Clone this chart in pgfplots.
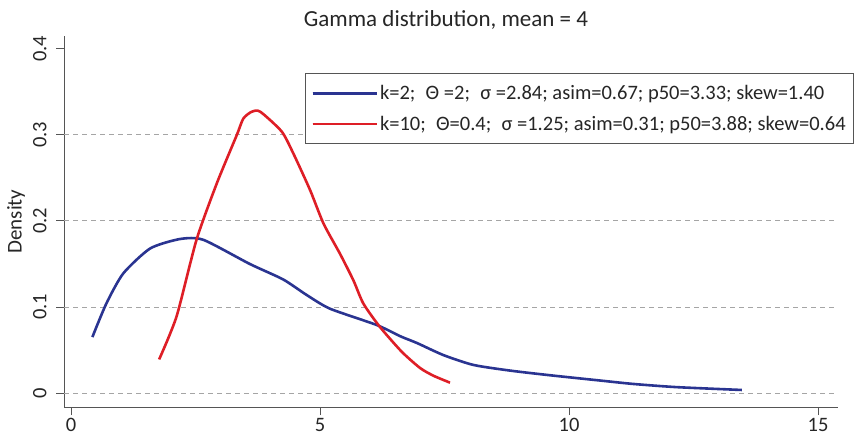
\documentclass[border=0pt]{standalone}
\usepackage{pgfplots}
\pgfplotsset{compat=1.18}
\usepackage{fontspec}
\setmainfont{Carlito}
\definecolor{sblue}{RGB}{42,52,145}
\definecolor{sred}{RGB}{222,30,38}
\definecolor{axgray}{RGB}{85,85,85}
\definecolor{gridgray}{RGB}{165,165,165}
\begin{document}
\begin{tikzpicture}
\useasboundingbox (-64pt,-33pt) rectangle (797pt,407pt);
\begin{axis}[
  at={(0pt,0pt)}, anchor=south west,
  scale only axis, width=774pt, height=371pt,
  xmin=-0.14, xmax=15.4, ymin=-0.0163, ymax=0.415,
  axis x line*=bottom, axis y line*=left,
  axis line style={-, draw=axgray, line width=0.9pt},
  xtick={0,5,10,15}, ytick={0,0.1,0.2,0.3,0.4},
  tick align=outside, major tick length=8pt,
  tick style={draw=axgray, line width=0.9pt},
  extra y ticks={0,0.1,0.2,0.3}, extra y tick labels={},
  extra y tick style={grid=major, major tick length=0pt},
  grid style={dash pattern=on 4.5pt off 4.5pt, draw=gridgray, line width=0.9pt},
  /pgf/number format/assume math mode=true,
  tick label style={font=\fontsize{20.5}{24}\selectfont, text=black!85},
  yticklabel style={xshift=-6pt, rotate=90, anchor=south},
  ylabel={Density},
  every axis y label/.style={at={(rel axis cs:0,0.5)}, xshift=-48pt, rotate=90, anchor=center, font=\fontsize{21}{25}\selectfont, text=black!85},
  title={Gamma distribution, mean = 4},
  every axis title/.style={at={(rel axis cs:0.5,1)}, anchor=base, yshift=9.3pt, xshift=-5pt, font=\fontsize{23}{27}\selectfont, text=black!85},
  legend style={at={(rel axis cs:0.3114,0.9003)}, anchor=north west, draw=axgray, line width=0.8pt,
    font=\fontsize{20.5}{24}\selectfont, text=black!85, inner xsep=6pt, inner ysep=10pt, row sep=11pt,
    cells={anchor=west}},
  legend image code/.code={\draw[#1] (0pt,0pt) -- (51pt,0pt); \path (0pt,0pt) -- (64pt,0pt);},
  legend cell align=left,
]
\addplot[sblue, line width=2.6pt, smooth, tension=0.4] coordinates {
(0.43,0.065) (0.71,0.104) (1.05,0.139) (1.59,0.168) (2.19,0.179) (2.66,0.178)
(3.59,0.150) (4.26,0.132) (4.73,0.114) (5.20,0.098) (6.14,0.079) (6.61,0.066)
(6.95,0.058) (7.48,0.044) (8.08,0.0326) (8.82,0.026) (9.62,0.0206) (10.62,0.0145)
(11.29,0.0105) (12.16,0.0068) (13.47,0.0035)
};
\addlegendentry{k=2;\enspace Θ =2;\enspace σ =2.84; asim=0.67; p50=3.33; skew=1.40}
\addplot[sred, line width=2.6pt, smooth, tension=0.4] coordinates {
(1.77,0.039) (2.12,0.089) (2.52,0.178) (2.93,0.244) (3.33,0.300) (3.46,0.319)
(3.63,0.327) (3.80,0.327) (4.23,0.304) (4.46,0.279) (4.80,0.236) (5.07,0.197)
(5.40,0.162) (5.67,0.131) (5.87,0.104) (6.20,0.077) (6.64,0.048) (7.01,0.029)
(7.28,0.020) (7.61,0.012)
};
\addlegendentry{k=10;\enspace Θ=0.4;\enspace σ =1.25; asim=0.31; p50=3.88; skew=0.64}
\end{axis}
\end{tikzpicture}
\end{document}
